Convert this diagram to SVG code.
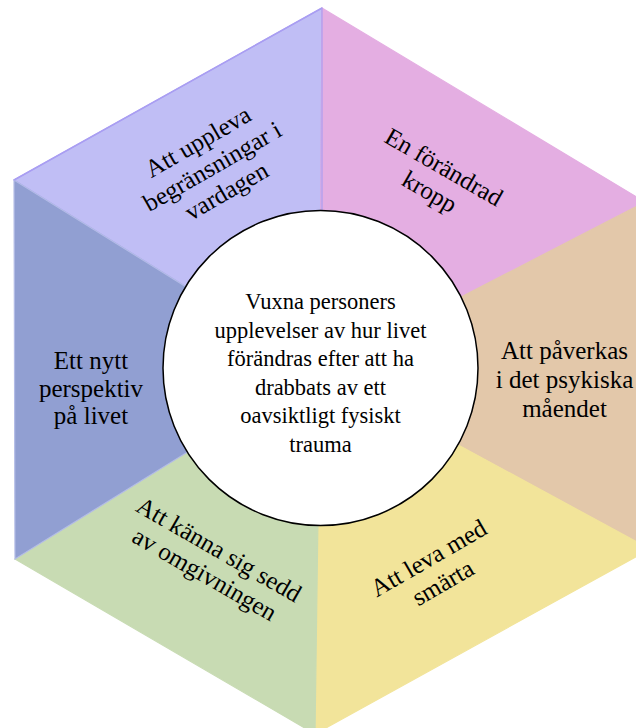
<svg xmlns="http://www.w3.org/2000/svg" width="636" height="728" viewBox="0 0 636 728">
<style>
text{font-family:"Liberation Serif","Times New Roman",serif;font-size:25px;fill:#000;text-anchor:middle}
.ctr{font-size:22.5px}
.seg{stroke-width:1.2}
</style>
<rect width="636" height="728" fill="#fff"/>
<g id="seg-purple"><polygon class="seg" points="14,180 322,8 320,370" fill="#C0BEF5" stroke="#A99EF2"/>
<text transform="translate(212,166) rotate(-30)"><tspan x="0" y="-19.75">Att uppleva</tspan><tspan x="0" y="8.75">begränsningar i</tspan><tspan x="0" y="37.25">vardagen</tspan></text></g>
<g id="seg-pink"><polygon class="seg" points="322,8 645,202 320,370" fill="#E4AEE2" stroke="#E4AEE2"/>
<text transform="translate(437,179) rotate(30)"><tspan x="0" y="-5.5">En förändrad</tspan><tspan x="0" y="23">kropp</tspan></text></g>
<g id="seg-orange"><polygon class="seg" points="645,202 650,549 320,370" fill="#E3C8AA" stroke="#E3C8AA"/>
<text><tspan x="564.5" y="359">Att påverkas</tspan><tspan x="564.5" y="388">i det psykiska</tspan><tspan x="564.5" y="417">måendet</tspan></text></g>
<g id="seg-yellow"><polygon class="seg" points="650,549 315,734 320,370" fill="#F2E49A" stroke="#F2E49A"/>
<text transform="translate(435.5,570) rotate(-30)"><tspan x="0" y="-5.5">Att leva med</tspan><tspan x="0" y="23">smärta</tspan></text></g>
<g id="seg-green"><polygon class="seg" points="315,734 15,559 320,370" fill="#C8DBB3" stroke="#C8DBB3"/>
<text transform="translate(212,561.5) rotate(30)"><tspan x="0" y="-5.5">Att känna sig sedd</tspan><tspan x="0" y="23">av omgivningen</tspan></text></g>
<g id="seg-blue"><polygon class="seg" points="15,559 14,180 320,370" fill="#919FD2" stroke="#B3BCE6"/>
<text><tspan x="91" y="369">Ett nytt</tspan><tspan x="91" y="396.5">perspektiv</tspan><tspan x="91" y="424">på livet</tspan></text></g>
<g id="connectors"><line x1="322" y1="8" x2="322" y2="215" stroke="#A99EF2" stroke-width="1.2"/><line x1="14" y1="180" x2="322" y2="8" stroke="#A99EF2" stroke-width="1.5"/></g>
<g id="center"><circle cx="320.5" cy="368" r="157.5" fill="#fff" stroke="#000" stroke-width="1.5"/>
<text class="ctr"><tspan x="320.5" y="309">Vuxna personers</tspan><tspan x="320.5" y="337.6">upplevelser av hur livet</tspan><tspan x="320.5" y="366.2">förändras efter att ha</tspan><tspan x="320.5" y="394.8">drabbats av ett</tspan><tspan x="320.5" y="423.4">oavsiktligt fysiskt</tspan><tspan x="320.5" y="452">trauma</tspan></text></g>
</svg>
